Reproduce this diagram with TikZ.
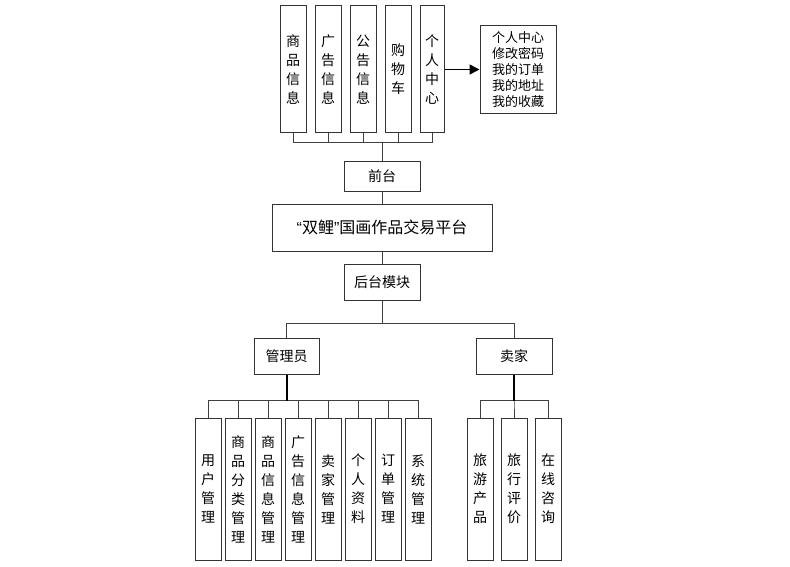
\documentclass[tikz,border=0pt]{standalone}
\usepackage{fontspec}
\setmainfont{Noto Sans CJK SC}
\newfontfamily\latinfont{Liberation Sans}
\usetikzlibrary{positioning,arrows.meta}

\begin{document}
\begin{tikzpicture}[x=1pt, y=-1pt,
    vbox/.style={draw=black!80, line width=1pt, minimum width=26pt, inner sep=0pt, align=center, font=\fontsize{14}{19}\selectfont},
    hbox/.style={draw=black!80, line width=1pt, minimum width=76pt, minimum height=36pt, font=\fontsize{14}{17}\selectfont},
    link/.style={black!75, line width=1pt},
    trunk/.style={black, line width=2pt},
    arrow/.style={-{Triangle[length=10pt,width=10pt]}, line width=1.5pt, black}
]
\useasboundingbox (0,0) rectangle (790,567);

% Front end
\node[vbox, minimum height=127pt] (goods) at (293,69.5) {商\\品\\信\\息};
\node[vbox, minimum height=127pt, right=8pt of goods] (ad) {广\\告\\信\\息};
\node[vbox, minimum height=127pt, right=8pt of ad] (notice) {公\\告\\信\\息};
\node[vbox, minimum height=127pt, right=8pt of notice] (cart) {购\\物\\车};
\node[vbox, minimum height=127pt, minimum width=24pt, right=8pt of cart] (center) {个\\人\\中\\心};
\node[draw=black!80, line width=1pt, minimum width=76pt, minimum height=88pt, align=left, font=\fontsize{13}{16}\selectfont] (menu) at (518,69.5) {个人中心\\修改密码\\我的订单\\我的地址\\我的收藏};

\node[hbox, minimum height=29pt] (front) at (382,176.5) {前台};
\node[hbox, minimum width=220pt, minimum height=47pt, below=12pt of front, font=\fontsize{16}{20}\selectfont] (platform) {{\latinfont“}双鲤{\latinfont”}国画作品交易平台};
\node[hbox, below=12pt of platform] (backend) {后台模块};

% Back end roles
\node[hbox, minimum width=65pt] (admin) at (286.5,356) {管理员};
\node[hbox] (seller) at (514,356) {卖家};

% Admin modules
\node[vbox, minimum height=142pt] (user) at (208,489) {用\\户\\管\\理};
\node[vbox, minimum height=142pt, right=3pt of user] (category) {商\\品\\分\\类\\管\\理};
\node[vbox, minimum height=142pt, right=3pt of category] (goodsinfo) {商\\品\\信\\息\\管\\理};
\node[vbox, minimum height=142pt, right=3pt of goodsinfo] (adinfo) {广\\告\\信\\息\\管\\理};
\node[vbox, minimum height=142pt, right=3pt of adinfo] (sellers) {卖\\家\\管\\理};
\node[vbox, minimum height=142pt, right=3pt of sellers] (profile) {个\\人\\资\\料};
\node[vbox, minimum height=142pt, right=3pt of profile] (orders) {订\\单\\管\\理};
\node[vbox, minimum height=142pt, right=3pt of orders] (system) {系\\统\\管\\理};

% Seller modules
\node[vbox, minimum height=142pt] (travel) at (480,489) {旅\\游\\产\\品};
\node[vbox, minimum height=142pt, right=7pt of travel] (review) {旅\\行\\评\\价};
\node[vbox, minimum height=142pt, right=7pt of review] (consult) {在\\线\\咨\\询};

% Connectors
\foreach \m in {goods, ad, notice, cart, center} {
    \draw[link] (\m.south) -- ++(0,9) -| (front.north);
}
\draw[arrow] (center.east) -- (menu.west);
\draw[link] (front) -- (platform);
\draw[link] (platform) -- (backend);
\foreach \r in {admin, seller} {
    \draw[link] (backend.south) -- ++(0,23) -| (\r.north);
}
\foreach \m in {user, category, goodsinfo, adinfo, sellers, profile, orders, system} {
    \draw[link] (admin.south) -- ++(0,26) -| (\m.north);
}
\foreach \m in {travel, review, consult} {
    \draw[link] (seller.south) -- ++(0,26) -| (\m.north);
}
\draw[trunk] (admin.south) -- ++(0,26);
\draw[trunk] (seller.south) -- ++(0,26);

\end{tikzpicture}
\end{document}
